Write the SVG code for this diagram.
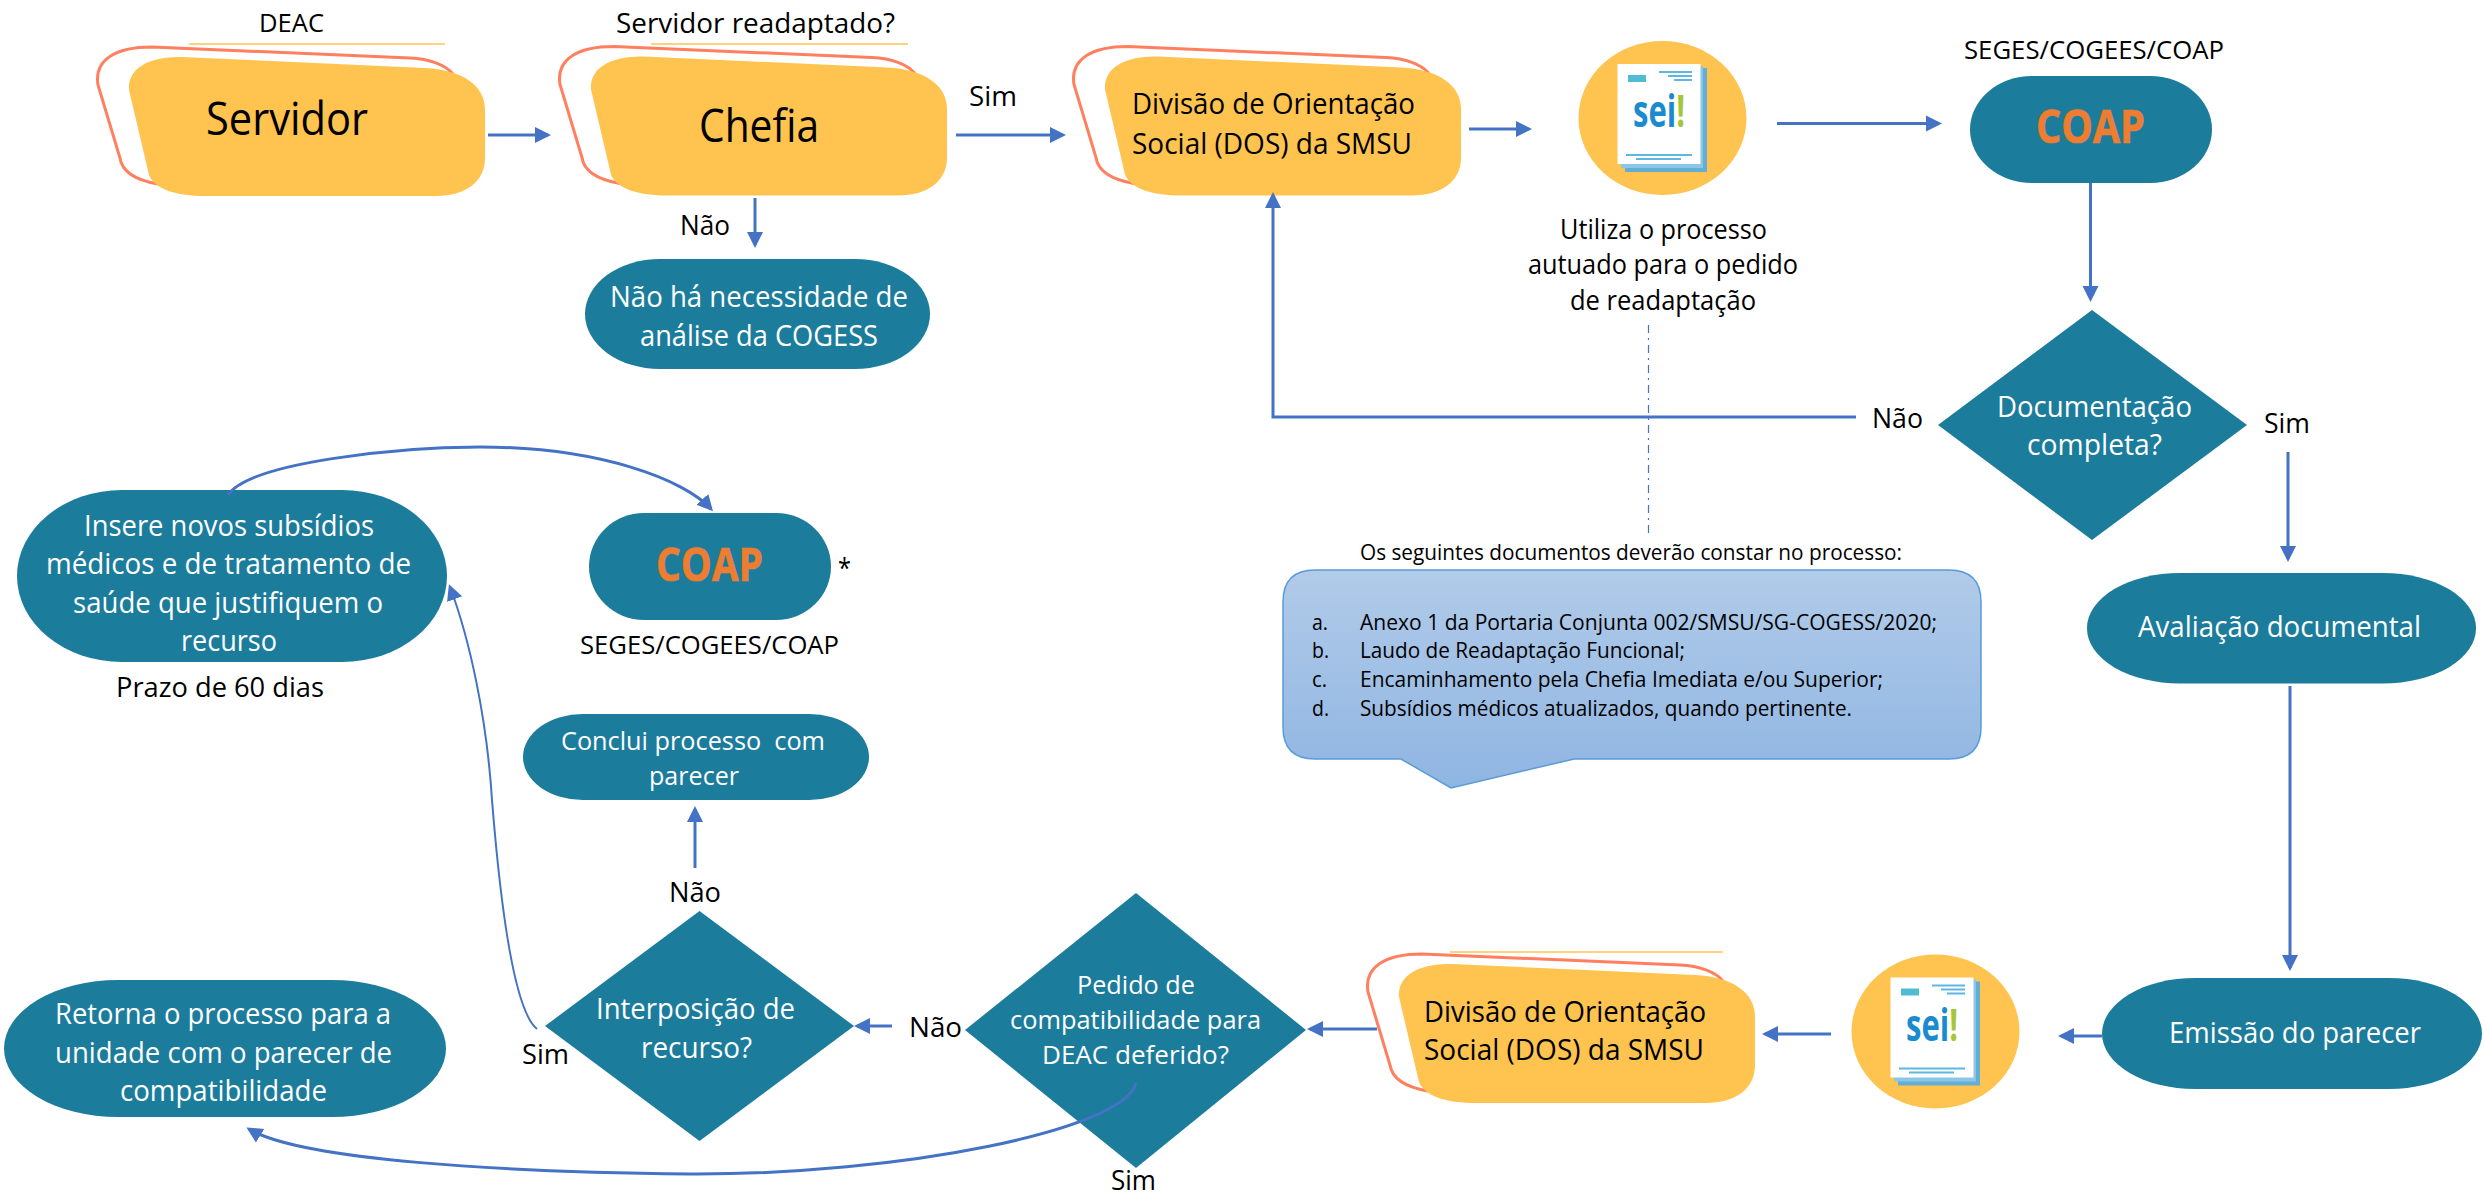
<svg xmlns="http://www.w3.org/2000/svg" width="2484" height="1196" viewBox="0 0 2484 1196">
<style>
text{font-family:"Open Sans","Noto Sans","Liberation Sans",sans-serif;fill:#000;white-space:pre}
.w{fill:#fff}
.coap{fill:#ED7D31;font-weight:700;font-size:46px;stroke:#ED7D31;stroke-width:.7px}
.s25{font-size:26px}.s26{font-size:27px}.s27{font-size:28px}.s28{font-size:29px}.s29{font-size:30px}.s21{font-size:22px}.s42{font-size:45px}
.teal{fill:#1C7C9C}
.gold{fill:#FFC34F}
.rim{fill:#fff;stroke:#FF7F5F;stroke-width:3}
.hair{stroke:#FFC34F;stroke-width:1.5;fill:none}
.c{fill:none;stroke:#4472C4;stroke-width:3}
.thin{stroke-width:2}
.a{marker-end:url(#tip)}
</style>
<defs>
<marker id="tip" markerUnits="userSpaceOnUse" markerWidth="18" markerHeight="18" refX="13" refY="9" orient="auto"><path d="M0 1L16 9L0 17Z" fill="#4472C4"/></marker>
<linearGradient id="bubble" x1="0" y1="0" x2="0" y2="1"><stop offset="0" stop-color="#B1CBE9"/><stop offset="1" stop-color="#8FB5E2"/></linearGradient>
<g id="blob">
<path class="rim" d="M158 184C135 180 122 172 120 158L98 85C94 60 115 47 152 47L410 58C430 59 445 65 452 73L300 190Z"/>
<path class="gold" d="M129 90C127 68 150 56 182 57L425 68C462 70 485 85 485 110L485 158C485 182 465 196 436 196L205 196C178 196 155 190 149 175Z"/>
</g>
<g id="seidoc">
<ellipse class="gold" cx="1662.5" cy="118" rx="84" ry="77"/>
<rect x="1625" y="68" width="82" height="104" fill="#62AED6"/>
<rect x="1621" y="66" width="82" height="102" fill="#8CC6E6"/>
<rect x="1617.5" y="64" width="83" height="100" fill="#fff"/>
<rect x="1628" y="75" width="18" height="7" fill="#4FBCD4"/>
<path d="M1659 72H1692M1668 76H1692M1674 80H1692M1626 155H1692M1636 159H1681" stroke="#5DB7E0" stroke-width="2" fill="none"/>
<text x="1633" y="127" textLength="52" lengthAdjust="spacingAndGlyphs" style="font-size:44px;font-weight:700;fill:#1B8BCF">sei<tspan style="fill:#A6C63A">!</tspan></text>
</g>
</defs>

<g id="servidor"><path class="hair" d="M189 44H445"/><use href="#blob"/>
<text class="s42" x="206" y="135" textLength="162" lengthAdjust="spacingAndGlyphs">Servidor</text>
<text class="s25" x="259" y="32" textLength="65" lengthAdjust="spacingAndGlyphs">DEAC</text></g>

<g id="chefia"><path class="hair" d="M651 44H908"/><use href="#blob" x="462" y="-0.5"/>
<text class="s42" x="699" y="142" textLength="120" lengthAdjust="spacingAndGlyphs">Chefia</text>
<text class="s27" x="616" y="33" textLength="279" lengthAdjust="spacingAndGlyphs">Servidor readaptado?</text></g>

<g id="dos-top"><use href="#blob" x="976" y="-0.5"/>
<text class="s28" x="1132" y="114" textLength="283" lengthAdjust="spacingAndGlyphs">Divisão de Orientação</text>
<text class="s28" x="1132" y="154" textLength="280" lengthAdjust="spacingAndGlyphs">Social (DOS) da SMSU</text></g>

<g id="sei-top"><use href="#seidoc"/>
<text class="s26" x="1560" y="239" textLength="207" lengthAdjust="spacingAndGlyphs">Utiliza o processo</text>
<text class="s26" x="1528" y="274" textLength="270" lengthAdjust="spacingAndGlyphs">autuado para o pedido</text>
<text class="s26" x="1570" y="310" textLength="186" lengthAdjust="spacingAndGlyphs">de readaptação</text></g>

<g id="coap-top"><rect class="teal" x="1970" y="76" width="242" height="107" rx="62" ry="53.5"/>
<text class="coap" x="2036" y="143" textLength="109" lengthAdjust="spacingAndGlyphs">COAP</text>
<text class="s25" x="1964" y="59" textLength="260" lengthAdjust="spacingAndGlyphs">SEGES/COGEES/COAP</text></g>

<g id="nao-ha"><rect class="teal" x="585" y="259" width="345" height="110" rx="75" ry="55"/>
<text class="s29 w" x="610" y="307" textLength="298" lengthAdjust="spacingAndGlyphs">Não há necessidade de</text>
<text class="s29 w" x="640" y="346" textLength="238" lengthAdjust="spacingAndGlyphs">análise da COGESS</text></g>

<g id="doc-completa"><path class="teal" d="M2092 310L2247 425L2092 540L1938 425Z"/>
<text class="s28 w" x="1997" y="417" textLength="195" lengthAdjust="spacingAndGlyphs">Documentação</text>
<text class="s28 w" x="2027" y="455" textLength="135" lengthAdjust="spacingAndGlyphs">completa?</text></g>

<g id="callout">
<text class="s21" x="1360" y="560" textLength="542" lengthAdjust="spacingAndGlyphs">Os seguintes documentos deverão constar no processo:</text>
<path d="M1315 570H1949Q1981 570 1981 602V727Q1981 759 1949 759H1574L1451 788L1401 759H1315Q1283 759 1283 727V602Q1283 570 1315 570Z" fill="url(#bubble)" stroke="#5B9BD5" stroke-width="1.5"/>
<text class="s21" x="1312" y="630" textLength="16" lengthAdjust="spacingAndGlyphs">a.</text>
<text class="s21" x="1360" y="630" textLength="577" lengthAdjust="spacingAndGlyphs">Anexo 1 da Portaria Conjunta 002/SMSU/SG-COGESS/2020;</text>
<text class="s21" x="1312" y="658" textLength="17" lengthAdjust="spacingAndGlyphs">b.</text>
<text class="s21" x="1360" y="658" textLength="325" lengthAdjust="spacingAndGlyphs">Laudo de Readaptação Funcional;</text>
<text class="s21" x="1312" y="687" textLength="15" lengthAdjust="spacingAndGlyphs">c.</text>
<text class="s21" x="1360" y="687" textLength="523" lengthAdjust="spacingAndGlyphs">Encaminhamento pela Chefia Imediata e/ou Superior;</text>
<text class="s21" x="1312" y="716" textLength="17" lengthAdjust="spacingAndGlyphs">d.</text>
<text class="s21" x="1360" y="716" textLength="492" lengthAdjust="spacingAndGlyphs">Subsídios médicos atualizados, quando pertinente.</text>
</g>

<g id="avaliacao"><rect class="teal" x="2087" y="573" width="389" height="110.5" rx="93" ry="55"/>
<text class="s29 w" x="2138" y="637" textLength="283" lengthAdjust="spacingAndGlyphs">Avaliação documental</text></g>

<g id="emissao"><rect class="teal" x="2102" y="978" width="380" height="111" rx="93" ry="55.5"/>
<text class="s29 w" x="2169" y="1043" textLength="252" lengthAdjust="spacingAndGlyphs">Emissão do parecer</text></g>

<g id="sei-bottom"><use href="#seidoc" x="273" y="913.5"/></g>

<g id="dos-bottom"><path class="hair" d="M1450 952H1723"/><use href="#blob" x="1270" y="907"/>
<text class="s28" x="1424" y="1022" textLength="282" lengthAdjust="spacingAndGlyphs">Divisão de Orientação</text>
<text class="s28" x="1424" y="1060" textLength="280" lengthAdjust="spacingAndGlyphs">Social (DOS) da SMSU</text></g>

<g id="pedido"><path class="teal" d="M1136 893L1306 1030L1136 1168L965 1030Z"/>
<text class="s25 w" x="1077" y="994" textLength="118" lengthAdjust="spacingAndGlyphs">Pedido de</text>
<text class="s25 w" x="1010" y="1029" textLength="251" lengthAdjust="spacingAndGlyphs">compatibilidade para</text>
<text class="s25 w" x="1042" y="1064" textLength="187" lengthAdjust="spacingAndGlyphs">DEAC deferido?</text></g>

<g id="interposicao"><path class="teal" d="M699.500 911L854 1026L699.500 1141L545 1026Z"/>
<text class="s28 w" x="596" y="1019" textLength="199" lengthAdjust="spacingAndGlyphs">Interposição de</text>
<text class="s28 w" x="641" y="1058" textLength="111" lengthAdjust="spacingAndGlyphs">recurso?</text></g>

<g id="conclui"><rect class="teal" x="523" y="714" width="346" height="86" rx="60" ry="43"/>
<text class="s25 w" x="561" y="750" textLength="264" lengthAdjust="spacingAndGlyphs">Conclui processo  com</text>
<text class="s25 w" x="649" y="785" textLength="90" lengthAdjust="spacingAndGlyphs">parecer</text></g>

<g id="coap-bottom"><rect class="teal" x="589" y="513" width="242" height="107" rx="55" ry="53.500"/>
<text class="coap" x="656" y="581" textLength="107" lengthAdjust="spacingAndGlyphs">COAP</text>
<text class="s26" x="838" y="578" textLength="13" lengthAdjust="spacingAndGlyphs">*</text>
<text class="s25" x="580" y="654" textLength="259" lengthAdjust="spacingAndGlyphs">SEGES/COGEES/COAP</text></g>

<g id="insere"><rect class="teal" x="17" y="490" width="430" height="172" rx="105" ry="86"/>
<text class="s29 w" x="84" y="536" textLength="290" lengthAdjust="spacingAndGlyphs">Insere novos subsídios</text>
<text class="s29 w" x="46" y="574" textLength="365" lengthAdjust="spacingAndGlyphs">médicos e de tratamento de</text>
<text class="s29 w" x="73" y="613" textLength="310" lengthAdjust="spacingAndGlyphs">saúde que justifiquem o</text>
<text class="s29 w" x="181" y="651" textLength="96" lengthAdjust="spacingAndGlyphs">recurso</text>
<text class="s27" x="116" y="697" textLength="208" lengthAdjust="spacingAndGlyphs">Prazo de 60 dias</text></g>

<g id="retorna"><rect class="teal" x="4" y="980" width="442" height="137" rx="114" ry="68.500"/>
<text class="s28 w" x="55" y="1024" textLength="336" lengthAdjust="spacingAndGlyphs">Retorna o processo para a</text>
<text class="s28 w" x="55" y="1063" textLength="337" lengthAdjust="spacingAndGlyphs">unidade com o parecer de</text>
<text class="s28 w" x="120" y="1101" textLength="207" lengthAdjust="spacingAndGlyphs">compatibilidade</text></g>

<g id="connectors">
<path class="c a" d="M488 135H548"/>
<path class="c a" d="M956 135H1063"/>
<path class="c a" d="M1469 129H1529"/>
<path class="c a" d="M1777 123.500H1939"/>
<path class="c a" d="M2090.500 183V299"/>
<path class="c a" d="M2288 452V559"/>
<path class="c a" d="M2290 686V968"/>
<path class="c a" d="M2102 1036H2061"/>
<path class="c a" d="M1831 1034H1765"/>
<path class="c a" d="M1377 1029H1310"/>
<path class="c a" d="M892 1026H857"/>
<path class="c a" d="M695 868V809"/>
<path class="c a" d="M755 198V245"/>
<path class="c a" d="M1856 417H1273V195"/>
<path class="c a" d="M228 495C250 462 400 447 480 447C600 447 685 480 711 509"/>
<path class="c thin a" d="M537 1029C513 1010 500 900 492 800C487 720 470 640 450 587"/>
<path class="c a" d="M1136 1083C1125 1130 900 1175 690 1174C500 1172 300 1160 249 1129"/>
<path d="M1648.500 325V535" fill="none" stroke="#4472C4" stroke-width="1.200" stroke-dasharray="8 5 2 5"/>
</g>

<g id="labels">
<text class="s27" x="969" y="106" textLength="48" lengthAdjust="spacingAndGlyphs">Sim</text>
<text class="s27" x="680" y="235" textLength="50" lengthAdjust="spacingAndGlyphs">Não</text>
<text class="s27" x="1872" y="428" textLength="51" lengthAdjust="spacingAndGlyphs">Não</text>
<text class="s27" x="2264" y="433" textLength="46" lengthAdjust="spacingAndGlyphs">Sim</text>
<text class="s27" x="669" y="902" textLength="52" lengthAdjust="spacingAndGlyphs">Não</text>
<text class="s27" x="522" y="1064" textLength="47" lengthAdjust="spacingAndGlyphs">Sim</text>
<text class="s27" x="909" y="1037" textLength="53" lengthAdjust="spacingAndGlyphs">Não</text>
<text class="s27" x="1111" y="1190" textLength="45" lengthAdjust="spacingAndGlyphs">Sim</text>
</g>
</svg>
